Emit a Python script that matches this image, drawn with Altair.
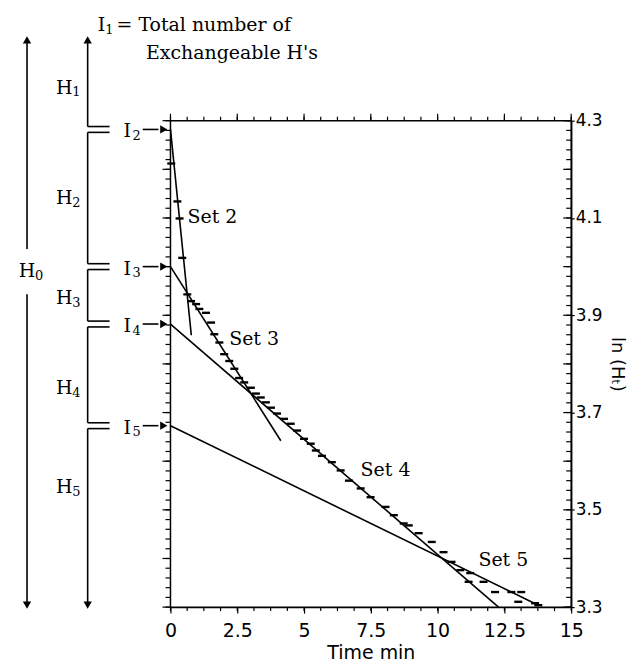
import altair as alt
import pandas as pd

# ---------------- observed data (Time min, ln(Ht)) ----------------
time_min = [0.03, 0.26, 0.34, 0.44, 0.63, 0.77, 0.96, 1.08, 1.33, 1.52, 1.64, 1.83,
            2.01, 2.20, 2.39, 2.57, 2.76, 3.01, 3.20, 3.38, 3.57, 3.76, 3.99, 4.25,
            4.50, 4.74, 5.00, 5.25, 5.44, 5.67, 6.04, 6.37, 6.68, 7.12, 7.49, 8.05,
            8.36, 8.73, 8.92, 9.29, 9.78, 10.22, 10.52, 10.85, 11.22, 11.16, 11.72,
            12.15, 12.76, 13.13, 13.02, 13.65, 13.77]
ln_ht = [4.212, 4.134, 4.099, 4.018, 3.943, 3.929, 3.923, 3.913, 3.905, 3.885, 3.861, 3.844,
         3.820, 3.806, 3.790, 3.771, 3.762, 3.751, 3.739, 3.731, 3.721, 3.710, 3.698, 3.687,
         3.677, 3.663, 3.646, 3.636, 3.622, 3.611, 3.598, 3.581, 3.560, 3.544, 3.526, 3.506,
         3.489, 3.472, 3.468, 3.452, 3.434, 3.413, 3.393, 3.376, 3.370, 3.352, 3.352,
         3.331, 3.331, 3.331, 3.311, 3.308, 3.304]

# ---------------- fitted lines ----------------
fit_sets = ["Set 2", "Set 3", "Set 4", "Set 5"]
fit_t0 = [0, 0, 0, 0]
fit_v0 = [4.282, 4.000, 3.882, 3.673]   # intercepts I2..I5
fit_t1 = [0.78, 4.13, 12.28, 13.77]
fit_v1 = [3.859, 3.642, 3.300, 3.304]
set_label_t = [1.57, 3.13, 8.05, 12.46]
set_label_v = [4.103, 3.851, 3.581, 3.396]

# ---------------- axes ----------------
x_labels = [0, 2.5, 5, 7.5, 10, 12.5, 15]
y_labels = [3.3, 3.5, 3.7, 3.9, 4.1, 4.3]
x_minor = [i * 0.625 for i in range(25)]
y_minor = [round(3.3 + i * 0.02, 3) for i in range(51)]
y_major = [round(3.3 + i * 0.1, 2) for i in range(11)]

# ---------------- left-hand annotation (in data units) ----------------
outer_t = -5.37
inner_t = -3.10
bracket_t = -2.28
arrow_top = 4.466
arrow_bottom = 3.304
h0_gap = [4.036, 3.943]
gap = 0.006
h_subs = ["1", "2", "3", "4", "5"]
h_label_v = [4.368, 4.141, 3.936, 3.751, 3.547]
h_label_t = -3.98
i_subs = ["2", "3", "4", "5"]
i_label_t = -1.62

SERIF = "DejaVu Serif"
SANS = "DejaVu Sans"
SUB_DT = 0.30     # subscript shift right (time units)
SUB_DV = 0.010    # subscript drop (ln units)

xs = alt.Scale(domain=[0, 15], nice=False, zero=False)
ys = alt.Scale(domain=[3.3, 4.3], nice=False, zero=False)

ax_x = alt.Axis(orient="bottom", values=x_labels, format=".1~f", title="Time min",
                tickSize=6, labelPadding=8, titlePadding=4, labelFontSize=19, labelFlush=False,
                titleFontSize=19, labelFont=SANS, titleFont=SANS, titleFontWeight="normal",
                grid=False)
ax_y = alt.Axis(orient="right", values=y_labels, format=".1f", title="ln (Hₜ)",
                tickSize=3, labelPadding=1, titlePadding=5, labelFontSize=17, labelFlush=False,
                titleFontSize=18, labelFont=SANS, titleFont=SANS, titleFontWeight="normal",
                grid=False)


def X(f):
    return alt.X(f, type="quantitative", scale=xs, axis=ax_x)


def Y(f):
    return alt.Y(f, type="quantitative", scale=ys, axis=ax_y)


# segments
segs = []
segs.append((outer_t, arrow_top, outer_t, h0_gap[0]))
segs.append((outer_t, h0_gap[1], outer_t, arrow_bottom))
ends = [arrow_top]
for L in fit_v0:
    ends += [L + gap, L - gap]
ends.append(arrow_bottom)
for i in range(0, len(ends), 2):
    segs.append((inner_t, ends[i], inner_t, ends[i + 1]))
for L in fit_v0:
    segs.append((inner_t, L + gap, bracket_t, L + gap))
    segs.append((inner_t, L - gap, bracket_t, L - gap))
    segs.append((-1.04, L, -0.45, L))
seg_df = pd.DataFrame(segs, columns=["t1", "v1", "t2", "v2"])

heads = [(outer_t, arrow_top, "triangle-up"), (inner_t, arrow_top, "triangle-up"),
         (outer_t, arrow_bottom, "triangle-down"), (inner_t, arrow_bottom, "triangle-down")]
for L in fit_v0:
    heads.append((-0.25, L, "triangle-right"))
head_df = pd.DataFrame(heads, columns=["t", "v", "shape"])

# letters (centered) and their subscripts
base = [("H", outer_t, 3.990)]
subs = [("0", outer_t + SUB_DT, 3.990 - SUB_DV)]
for s, v in zip(h_subs, h_label_v):
    base.append(("H", h_label_t, v))
    subs.append((s, h_label_t + SUB_DT, v - SUB_DV))
for s, L in zip(i_subs, fit_v0):
    base.append(("I", i_label_t, L - 0.004))
    subs.append((s, i_label_t + 0.20, L - 0.004 - SUB_DV))
base += [(s, t, v) for s, t, v in zip(fit_sets, set_label_t, set_label_v)]
base_df = pd.DataFrame(base, columns=["text", "t", "v"])
subs_df = pd.DataFrame(subs, columns=["text", "t", "v"])

# I1 caption
cap_df = pd.DataFrame({"text": ["I", "= Total number of", "Exchangeable H's"],
                       "t": [-2.72, -2.02, -0.92], "v": [4.497, 4.497, 4.440]})
cap_sub_df = pd.DataFrame({"text": ["1"], "t": [-2.44], "v": [4.497 - SUB_DV]})

obs_df = pd.DataFrame({"t": time_min, "v": ln_ht})
fit_df = pd.DataFrame({"set": fit_sets, "t0": fit_t0, "v0": fit_v0, "t1": fit_t1, "v1": fit_v1})

xmin_df = pd.DataFrame({"t": x_minor})
xmaj_df = pd.DataFrame({"t": x_labels})
ymin_df = pd.DataFrame({"v": y_minor})
ymaj_df = pd.DataFrame({"v": y_major})

data_layer = alt.Chart(obs_df).mark_tick(orient="horizontal", size=8, thickness=2.4,
                                         color="black", opacity=1).encode(x=X("t"), y=Y("v"))

fit_layer = alt.Chart(fit_df).mark_rule(color="black", strokeWidth=1.6).encode(
    x=X("t0"), y=Y("v0"), x2="t1", y2="v1")

seg_layer = alt.Chart(seg_df).mark_rule(color="black", strokeWidth=1.6).encode(
    x=X("t1"), y=Y("v1"), x2="t2", y2="v2")

head_layer = alt.Chart(head_df).mark_point(filled=True, color="black", opacity=1, size=70).encode(
    x=X("t"), y=Y("v"), shape=alt.Shape("shape:N", scale=None))

base_layer = alt.Chart(base_df).mark_text(font=SERIF, fontSize=19, color="black",
                                          align="center", baseline="middle").encode(
    x=X("t"), y=Y("v"), text="text:N")
subs_layer = alt.Chart(subs_df).mark_text(font=SERIF, fontSize=13, color="black",
                                          align="left", baseline="middle").encode(
    x=X("t"), y=Y("v"), text="text:N")
cap_layer = alt.Chart(cap_df).mark_text(font=SERIF, fontSize=19, color="black",
                                        align="left", baseline="middle").encode(
    x=X("t"), y=Y("v"), text="text:N")
cap_sub_layer = alt.Chart(cap_sub_df).mark_text(font=SERIF, fontSize=13, color="black",
                                                align="left", baseline="middle").encode(
    x=X("t"), y=Y("v"), text="text:N")


def tick_layer(df, orient, size, **offs):
    return alt.Chart(df).mark_tick(orient=orient, size=size, thickness=1.2, color="black",
                                   opacity=1, **offs)


bottom_minor = tick_layer(xmin_df, "vertical", 4, yOffset=2).encode(
    x=X("t"), y=Y("v:Q")).transform_calculate(v="3.3")
top_minor = tick_layer(xmin_df, "vertical", 4, yOffset=-2).encode(
    x=X("t"), y=Y("v:Q")).transform_calculate(v="4.3")
top_major = tick_layer(xmaj_df, "vertical", 7, yOffset=-3.5).encode(
    x=X("t"), y=Y("v:Q")).transform_calculate(v="4.3")
left_minor = tick_layer(ymin_df, "horizontal", 5, xOffset=-2.5).encode(
    x=X("t:Q"), y=Y("v")).transform_calculate(t="0")
left_major = tick_layer(ymaj_df, "horizontal", 8, xOffset=-4).encode(
    x=X("t:Q"), y=Y("v")).transform_calculate(t="0")
right_minor = tick_layer(ymin_df, "horizontal", 5, xOffset=-2.5).encode(
    x=X("t:Q"), y=Y("v")).transform_calculate(t="15")
right_major = tick_layer(ymaj_df, "horizontal", 8, xOffset=-4).encode(
    x=X("t:Q"), y=Y("v")).transform_calculate(t="15")

chart = alt.layer(
    data_layer, fit_layer, seg_layer, head_layer, base_layer, subs_layer, cap_layer, cap_sub_layer,
    bottom_minor, top_minor, top_major, left_minor, left_major, right_minor, right_major,
).properties(
    width=402, height=488, padding={"left": 10, "top": 6, "right": 4, "bottom": 0},
    background="white"
).configure_view(
    stroke="black", strokeWidth=1.5
).configure_axis(
    domainColor="black", domainWidth=1.5, tickColor="black", tickWidth=1.2,
    labelColor="black", titleColor="black"
)

chart.save("out.html", embed_options={"renderer": "svg", "actions": False})
